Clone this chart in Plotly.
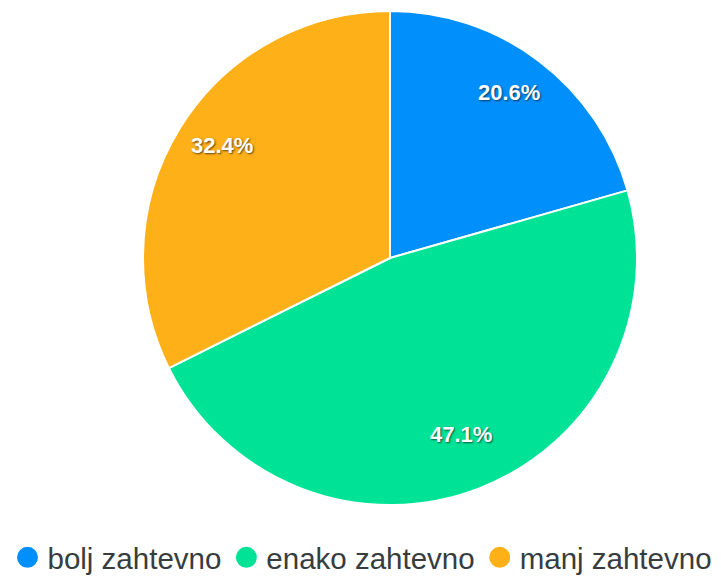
import math
import plotly.graph_objects as go

categories = ["bolj zahtevno", "enako zahtevno", "manj zahtevno"]
values = [7, 16, 11]
colors = ["#008FFB", "#00E396", "#FEB019"]

W, H = 721, 578
CX, CY, R = 382, 250, 247  # pie centre and radius in pixels (page has an 8px body offset)

fig = go.Figure()
fig.add_trace(go.Pie(
    labels=categories,
    values=values,
    marker=dict(colors=colors, line=dict(color="white", width=2)),
    sort=False,
    direction="clockwise",
    rotation=0,
    textinfo="none",
    showlegend=False,
    hoverinfo="label+percent",
    domain=dict(x=[(CX - R) / W, (CX + R) / W], y=[1 - (CY + R) / H, 1 - (CY - R) / H]),
))

total = sum(values)
cum = 0
for v in values:
    mid = (cum + v / 2) / total * 2 * math.pi
    cum += v
    px = CX + 0.8 * R * math.sin(mid)
    py = CY - 0.8 * R * math.cos(mid)
    fig.add_annotation(
        x=px / W, y=1 - py / H, xref="paper", yref="paper",
        xanchor="center", yanchor="middle",
        text=f"{v / total * 100:.1f}%", showarrow=False, yshift=8,
        font=dict(family="Liberation Sans, Arial, sans-serif", size=22, color="white",
                  weight="bold", shadow="1px 1px 2px rgba(0,0,0,0.6)"),
    )

for name, col in zip(categories, colors):
    fig.add_trace(go.Scatter(
        x=[None], y=[None], mode="markers", name=name,
        marker=dict(symbol="circle", size=22, color=col, line=dict(color=col, width=6)),
        showlegend=True,
    ))

fig.update_layout(
    width=W, height=H,
    margin=dict(l=0, r=0, t=0, b=0, autoexpand=False),
    paper_bgcolor="white", plot_bgcolor="white",
    xaxis=dict(visible=False), yaxis=dict(visible=False),
    legend=dict(
        orientation="h", xref="container", yref="container",
        x=0.5 - 6 / W, xanchor="center", y=0.004, yanchor="bottom",
        font=dict(family="Liberation Sans, Arial, sans-serif", size=29.5, color="#373d3f"),
        tracegroupgap=0,
    ),
)

fig.write_html("out.html")
